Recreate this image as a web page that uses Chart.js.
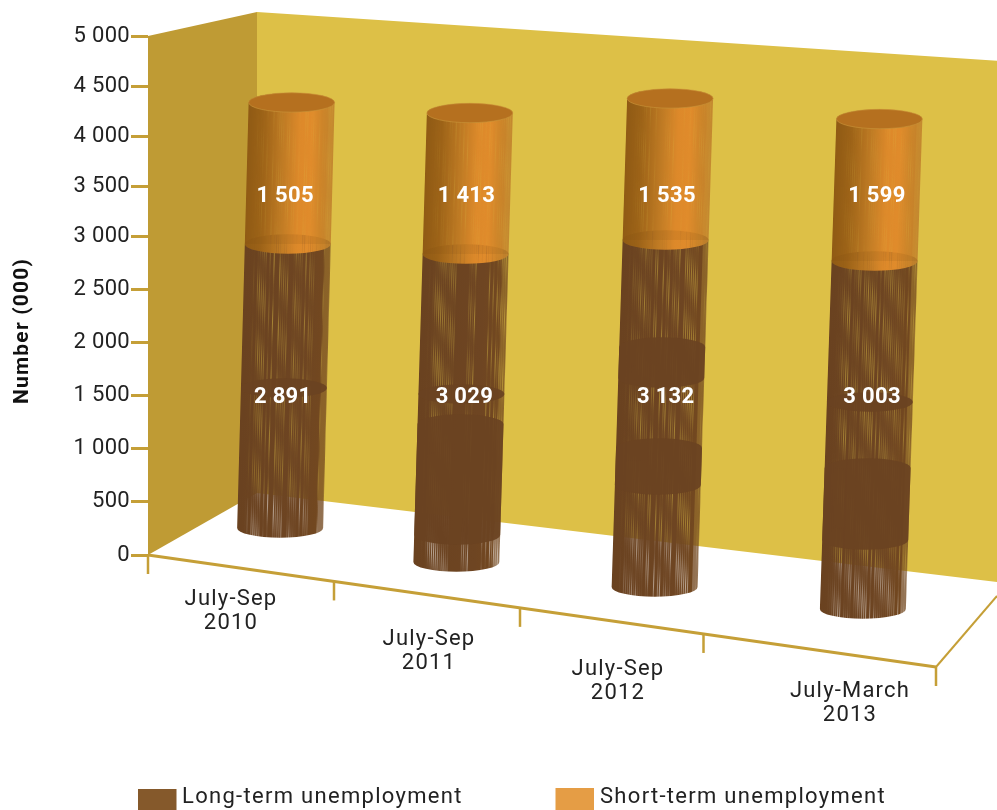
<!DOCTYPE html>
<html>
<head>
<meta charset="utf-8">
<script src="https://cdn.jsdelivr.net/npm/chart.js@4/dist/chart.umd.min.js"></script>
<style>
  html, body { margin: 0; padding: 0; background: #fff; }
  canvas { display: block; }
</style>
</head>
<body>
<canvas id="chart" width="997" height="810"></canvas>
<script>
const categories = [["July-Sep", "2010"], ["July-Sep", "2011"], ["July-Sep", "2012"], ["July-March", "2013"]];
const longTerm = [2891, 3029, 3132, 3003];
const shortTerm = [1505, 1413, 1535, 1599];
const valueMax = 5000;
const valueStep = 500;
// value levels the numbers inside the columns are written at
const labelLevels = [1500, 3420];

const FONT = "Roboto, sans-serif";
const GOLD = "#c59f37";

// how each column stands on the floor: shift from its slot, drop below the zero line,
// lean, the vertical gain/curve of the perspective, and a nudge for its two numbers
const columnViews = [
  { dx: 26, drop: -27, lean: 0.027, gain: 0.916, curve: -0.000028, nudge: [-1, -4] },
  { dx: -10, drop: 7, lean: 0.03, gain: 0.9294, curve: -0.000089, nudge: [3, -1] },
  { dx: -24, drop: 32, lean: 0.0317, gain: 1.1397, curve: 0.000274, nudge: [5, 0] },
  { dx: -28, drop: 54, lean: 0.0337, gain: 1.2552, curve: 0.000475, nudge: [2, 0] },
];
// places where the column sections overlap, in px above the foot: [top, bottom], bottom 0 = just a ring
const overlaps = [
  [[140, 0]],
  [[168, 0], [138, 27]],
  [[240, 209], [139, 102]],
  [[207, 0], [141, 69]],
];
const tickXs = [148, 334, 520, 703.5, 936];
const categorySpots = [[231, 599.5], [429, 639.5], [618, 669.5], [850, 691.5]];

const RX = 43;
const RY = 9.7;

// the wall foreshortens a little above the 3 000 line
const KNEE = 0.6;
const KNEE_PIXEL = 0.6146;

class PerspectiveScale extends Chart.LinearScale {
  static id = "perspective";
  static defaults = Chart.LinearScale.defaults;
  getPixelForValue(value) {
    const t = (value - this.min) / (this.max - this.min);
    const f = t <= KNEE
      ? (t * KNEE_PIXEL) / KNEE
      : KNEE_PIXEL + ((t - KNEE) * (1 - KNEE_PIXEL)) / (1 - KNEE);
    return this.getPixelForDecimal(f);
  }
  getValueForPixel(pixel) {
    const f = this.getDecimalForPixel(pixel);
    const t = f <= KNEE_PIXEL
      ? (f * KNEE) / KNEE_PIXEL
      : KNEE + ((f - KNEE_PIXEL) * (1 - KNEE)) / (1 - KNEE_PIXEL);
    return this.min + (this.max - this.min) * t;
  }
}
Chart.register(PerspectiveScale);

function formatThousands(v) {
  return String(v).replace(/\B(?=(\d{3})+$)/g, " ");
}

function fract(v) {
  return v - Math.floor(v);
}

// streaky surface of a column; the streaks are cut out so the wall shows through
function makeSkin(h, stops, strength, rim, seed) {
  const w = RX * 2 + 2;
  const c = document.createElement("canvas");
  c.width = w;
  c.height = h;
  const g = c.getContext("2d");
  const grad = g.createLinearGradient(0, 0, w, 0);
  stops.forEach((s) => grad.addColorStop(s[0], s[1]));
  g.fillStyle = grad;
  g.fillRect(0, 0, w, h);
  g.globalCompositeOperation = "destination-out";
  for (let x = 0; x < w; x++) {
    const grain = fract(Math.sin(x * 12.9898 + seed) * 43758.5453);
    const u = x / w;
    const edge = Math.min(1, Math.max(0, (u - 0.08) / 0.12));
    if (x % 2 === 0 && grain > 0.3) {
      for (let y = 0; y < h; y += 2) {
        const sweep = 0.15 + 0.85 * (0.5 + 0.5 * Math.sin(((x - y * 0.5) * 2 * Math.PI) / 30));
        g.fillStyle = "rgba(0,0,0," + (strength * grain * edge * sweep).toFixed(3) + ")";
        g.fillRect(x, y, 1, 2);
      }
    }
    if (u > 0.92) {
      g.fillStyle = "rgba(0,0,0," + rim + ")";
      g.fillRect(x, 0, 1, h);
    }
  }
  return c;
}

const BROWN_STOPS = [[0, "#6a4220"], [0.7, "#6e4522"], [1, "#74491f"]];
const ORANGE_STOPS = [[0, "#8f5a14"], [0.18, "#9c6217"], [0.42, "#c07b24"], [0.6, "#dd892a"], [0.74, "#e08b2b"], [0.86, "#cc8429"], [1, "#bf812c"]];

function bodyPath(ctx, axis, yTop, yBottom) {
  const top = axis(yTop);
  const bottom = axis(yBottom);
  ctx.beginPath();
  ctx.moveTo(top - RX, yTop);
  ctx.lineTo(bottom - RX, yBottom);
  ctx.ellipse(bottom, yBottom, RX, RY, 0, Math.PI, 0, true);
  ctx.lineTo(top + RX, yTop);
  ctx.ellipse(top, yTop, RX, RY, 0, 0, Math.PI, true);
  ctx.closePath();
}

function paintSkin(ctx, skin, axis, footY, lean, yTop, yBottom) {
  ctx.save();
  bodyPath(ctx, axis, yTop, yBottom);
  ctx.clip();
  ctx.translate(axis(footY), footY + RY + 2);
  ctx.transform(1, 0, -lean, 1, 0, 0);
  ctx.drawImage(skin, -RX - 1, -skin.height);
  ctx.restore();
}

const columnPlugin = {
  id: "columns",
  beforeDraw(chart) {
    const ctx = chart.ctx;
    ctx.letterSpacing = "0.3px";
    ctx.save();
    ctx.fillStyle = "#bf9b34";
    ctx.beginPath();
    ctx.moveTo(148, 36);
    ctx.lineTo(257, 12);
    ctx.lineTo(257, 493);
    ctx.lineTo(148, 555);
    ctx.closePath();
    ctx.fill();
    ctx.fillStyle = "#ddc047";
    ctx.beginPath();
    ctx.moveTo(257, 12);
    ctx.lineTo(997, 60.7);
    ctx.lineTo(997, 582);
    ctx.lineTo(257, 493);
    ctx.closePath();
    ctx.fill();

    // floor edges and category ticks
    ctx.strokeStyle = GOLD;
    ctx.lineWidth = 3;
    ctx.beginPath();
    ctx.moveTo(148, 555);
    ctx.lineTo(936, 667);
    ctx.stroke();
    ctx.lineWidth = 2;
    ctx.beginPath();
    ctx.moveTo(936, 667);
    ctx.lineTo(997, 596);
    ctx.stroke();
    ctx.lineWidth = 2.5;
    tickXs.forEach((x) => {
      const lineY = 555 + ((x - 148) * 112) / 788;
      ctx.beginPath();
      ctx.moveTo(x, lineY);
      ctx.lineTo(x, lineY + 19);
      ctx.stroke();
    });
    ctx.restore();
  },
  beforeDatasetsDraw(chart) {
    const ctx = chart.ctx;
    const yScale = chart.scales.y;
    const zero = yScale.getPixelForValue(0);
    const lowerMeta = chart.getDatasetMeta(0);
    const upperMeta = chart.getDatasetMeta(1);

    lowerMeta.data.forEach((lowerBar, i) => {
      const upperBar = upperMeta.data[i];
      const view = columnViews[i];
      const footY = zero + view.drop;
      const footX = lowerBar.x + view.dx;
      const axis = (y) => footX + view.lean * (footY - y);
      const project = (pixel) => {
        const d = zero - pixel;
        return footY - (view.gain * d) / (1 + view.curve * d);
      };
      const seamY = project(lowerBar.y);
      const topY = project(upperBar.y);

      const brown = makeSkin(Math.ceil(footY - seamY) + 40, BROWN_STOPS, 0.52, 0.22, i * 3.1);
      paintSkin(ctx, brown, axis, footY, view.lean, seamY, footY);

      // overlapping sections read as solid darker slabs
      ctx.fillStyle = "rgba(107,67,33,0.93)";
      overlaps[i].forEach((o) => {
        const upper = footY - o[0];
        if (o[1] !== 0) {
          bodyPath(ctx, axis, upper, footY - o[1]);
          ctx.fill();
        } else {
          ctx.beginPath();
          ctx.ellipse(axis(upper), upper, RX, RY, 0, 0, Math.PI * 2);
          ctx.fill();
        }
      });

      const orange = makeSkin(Math.ceil(seamY - topY) + 40, ORANGE_STOPS, 0.2, 0.1, i * 5.7 + 1);
      paintSkin(ctx, orange, axis, seamY, view.lean, topY, seamY);

      // the top of the lower section shows faintly through the upper one
      ctx.fillStyle = "rgba(120,72,20,0.12)";
      ctx.beginPath();
      ctx.ellipse(axis(seamY), seamY, RX, RY, 0, Math.PI, 0);
      ctx.fill();

      // lid
      ctx.fillStyle = "#b5701f";
      ctx.strokeStyle = "#c9963a";
      ctx.lineWidth = 0.6;
      ctx.beginPath();
      ctx.ellipse(axis(topY), topY, RX, RY, 0, 0, Math.PI * 2);
      ctx.fill();
      ctx.stroke();

      // values
      ctx.save();
      ctx.fillStyle = "#fff";
      ctx.font = "700 22px " + FONT;
      ctx.textAlign = "center";
      ctx.textBaseline = "middle";
      const lowY = yScale.getPixelForValue(labelLevels[0]);
      const highY = yScale.getPixelForValue(labelLevels[1]);
      ctx.fillText(formatThousands(longTerm[i]), axis(lowY) + view.nudge[0], lowY + 2);
      ctx.fillText(formatThousands(shortTerm[i]), axis(highY) + view.nudge[1], highY + 2);
      ctx.restore();
    });
    return false;
  },
  afterDraw(chart) {
    const ctx = chart.ctx;
    ctx.save();
    ctx.letterSpacing = "1.2px";
    ctx.fillStyle = "#222";
    ctx.font = "400 22px " + FONT;
    ctx.textAlign = "center";
    ctx.textBaseline = "middle";
    chart.data.labels.forEach((lines, i) => {
      lines.forEach((line, k) => {
        ctx.fillText(line, categorySpots[i][0], categorySpots[i][1] + k * 23.5);
      });
    });

    // axis title
    ctx.save();
    ctx.translate(23, 331);
    ctx.rotate(-Math.PI / 2);
    ctx.fillStyle = "#111";
    ctx.font = "700 21px " + FONT;
    ctx.fillText("Number (000)", 0, 0);
    ctx.restore();

    // legend
    ctx.letterSpacing = "1.3px";
    ctx.textAlign = "left";
    ctx.fillStyle = "#85592b";
    ctx.fillRect(138, 789, 38.5, 21);
    ctx.fillStyle = "#e59d45";
    ctx.fillRect(555.5, 788, 38.5, 22);
    ctx.fillStyle = "#222";
    ctx.fillText(chart.data.datasets[0].label, 182, 797.5);
    ctx.fillText(chart.data.datasets[1].label, 600, 797.5);
    ctx.restore();
  },
};

new Chart(document.getElementById("chart"), {
  type: "bar",
  data: {
    labels: categories,
    datasets: [
      { label: "Long-term unemployment", data: longTerm, backgroundColor: "#85592b" },
      { label: "Short-term unemployment", data: shortTerm, backgroundColor: "#e59d45" },
    ],
  },
  options: {
    responsive: false,
    animation: false,
    events: [],
    layout: { padding: { top: 36, bottom: 255, left: 0, right: 0 } },
    plugins: { legend: { display: false }, tooltip: { enabled: false } },
    scales: {
      x: { stacked: true, display: false },
      y: {
        type: "perspective",
        stacked: true,
        min: 0,
        max: valueMax,
        afterFit(scale) {
          scale.width = 148;
        },
        ticks: {
          stepSize: valueStep,
          padding: 1,
          color: "#222",
          font: { family: FONT, size: 22, weight: "400" },
          callback: (v) => formatThousands(v),
        },
        grid: {
          drawOnChartArea: false,
          drawTicks: true,
          tickLength: 17,
          tickWidth: 3,
          tickColor: GOLD,
        },
        border: { display: false },
      },
    },
  },
  plugins: [columnPlugin],
});
</script>
</body>
</html>
